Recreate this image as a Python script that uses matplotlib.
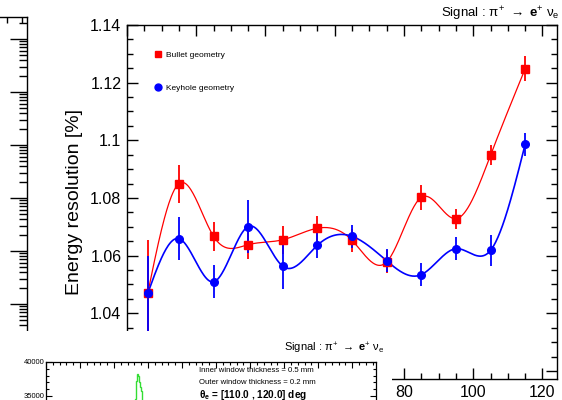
import numpy as np
import matplotlib
matplotlib.use('Agg')
import matplotlib.pyplot as plt
from matplotlib.ticker import MultipleLocator, LogLocator, NullFormatter, FuncFormatter
from matplotlib.lines import Line2D

plt.rcParams['font.family'] = ['Liberation Sans', 'DejaVu Sans']
plt.rcParams['mathtext.fontset'] = 'custom'
plt.rcParams['mathtext.rm'] = 'Liberation Sans'
plt.rcParams['mathtext.it'] = 'Liberation Sans'
plt.rcParams['mathtext.bf'] = 'Liberation Sans:bold'

# theta bins (deg) and energy resolution for the two geometries
theta = [6, 15, 25, 35, 45, 55, 65, 75, 85, 95, 105, 115]
bullet = [1.047, 1.085, 1.0667, 1.0638, 1.0655, 1.0695, 1.0653, 1.0578, 1.0802, 1.0728, 1.0948, 1.1248]
bullet_err = [0.0185, 0.0066, 0.005, 0.005, 0.0048, 0.0044, 0.004, 0.004, 0.0043, 0.0035, 0.0035, 0.0043]
keyhole = [1.0469, 1.0659, 1.0509, 1.0701, 1.0563, 1.0636, 1.0667, 1.0582, 1.0534, 1.0624, 1.0618, 1.0986]
keyhole_err = [0.013, 0.0074, 0.0057, 0.0092, 0.008, 0.0044, 0.004, 0.004, 0.004, 0.004, 0.0054, 0.0041]

# partly hidden histogram in the lower-left panel
hist_edges = [12.9, 13.05, 13.2, 13.35, 13.5, 13.65, 13.8, 13.95, 14.1, 14.25]
hist_counts = [30000, 34500, 37200, 38300, 38000, 37000, 36300, 35800, 30000]

W, H = 562, 400


def box(x0, y0, x1, y1):
    # pixel box (top-left origin) -> figure rect
    return [x0 / W, 1 - y1 / H, (x1 - x0) / W, (y1 - y0) / H]


def smooth(x, y, n=500):
    # natural cubic spline, like ROOT's "C" draw option
    x = np.asarray(x, float)
    y = np.asarray(y, float)
    h = np.diff(x)
    N = len(x)
    A = np.zeros((N, N))
    r = np.zeros(N)
    A[0, 0] = A[-1, -1] = 1
    for i in range(1, N - 1):
        A[i, i - 1] = h[i - 1]
        A[i, i] = 2 * (h[i - 1] + h[i])
        A[i, i + 1] = h[i]
        r[i] = 6 * ((y[i + 1] - y[i]) / h[i] - (y[i] - y[i - 1]) / h[i - 1])
    M = np.linalg.solve(A, r)
    xs = np.linspace(x[0], x[-1], n)
    idx = np.clip(np.searchsorted(x, xs) - 1, 0, N - 2)
    x0, x1 = x[idx], x[idx + 1]
    hh = x1 - x0
    a = (x1 - xs) / hh
    b = (xs - x0) / hh
    ys = a * y[idx] + b * y[idx + 1] + ((a ** 3 - a) * M[idx] + (b ** 3 - b) * M[idx + 1]) * hh ** 2 / 6
    return xs, ys


SIGNAL = r'Signal : $\pi^{+}$ $\rightarrow$ $\mathbf{e}^{+}$ $\nu_{e}$'

fig = plt.figure(figsize=(W / 100, H / 100), dpi=100)

# ---- main plot
ax = fig.add_axes(box(127, 25, 557, 379))
ax.set_xlim(0, 124.2)
ax.set_ylim(1.0172, 1.14)

for vals, errs, col, mk, lw in [(bullet, bullet_err, 'red', 's', 0.9),
                                (keyhole, keyhole_err, 'blue', 'o', 1.2)]:
    xs, ys = smooth(theta, vals)
    ax.plot(xs, ys, color=col, lw=lw, zorder=2)
    ax.errorbar(theta, vals, yerr=errs, fmt=mk, color=col, ms=5.5, elinewidth=1.3,
                capsize=0, zorder=3)

ax.xaxis.set_major_locator(MultipleLocator(20))
ax.xaxis.set_minor_locator(MultipleLocator(5))
ax.yaxis.set_major_locator(MultipleLocator(0.02))
ax.yaxis.set_minor_locator(MultipleLocator(0.005))
ax.yaxis.set_major_formatter(FuncFormatter(lambda v, p: f'{v:g}'))
ax.tick_params(which='both', direction='in', top=True, right=True, width=1.0)
ax.tick_params(which='major', length=8, labelsize=11.5, pad=4)
ax.tick_params(which='minor', length=4.3)
for s in ax.spines.values():
    s.set_linewidth(1.0)
ax.set_ylabel('Energy resolution [%]', fontsize=14, labelpad=5)

handles = [Line2D([], [], color='red', marker='s', ms=5, lw=0),
           Line2D([], [], color='blue', marker='o', ms=5, lw=0)]
ax.legend(handles, ['Bullet geometry', 'Keyhole geometry'], loc='upper left',
          bbox_to_anchor=(0.045, 0.948), frameon=False, fontsize=6,
          handlelength=1.0, handletextpad=0.5, labelspacing=3.0)

fig.text(560 / W, 1 - 14 / H, SIGNAL, ha='right', va='center', fontsize=9.5)

# ---- strip of another (log) plot at the left edge
axl = fig.add_axes(box(-20, 17, 27, 400))
axl.set_yscale('log')
axl.set_ylim(10 ** -0.811, 10 ** 6.415)
axl.set_xlim(-20, 27)
axl.yaxis.set_major_locator(LogLocator(base=10, numticks=20))
axl.yaxis.set_minor_locator(LogLocator(base=10, subs=np.arange(2, 10), numticks=20))
axl.yaxis.set_minor_formatter(NullFormatter())
axl.yaxis.tick_right()
axl.tick_params(axis='y', which='both', direction='in', labelright=False, width=1.0)
axl.tick_params(axis='y', which='major', length=12.5)
axl.tick_params(axis='y', which='minor', length=5.5)
axl.xaxis.tick_top()
axl.set_xticks([7, 22])
axl.tick_params(axis='x', direction='in', length=4, labeltop=False, width=1.0)
for k in ('left', 'bottom'):
    axl.spines[k].set_visible(False)
for k in ('right', 'top'):
    axl.spines[k].set_linewidth(1.0)

# ---- lower-left panel laid over the main plot
bg = fig.add_axes(box(0, 331, 392, 400))
bg.set_zorder(3)
bg.set_xticks([])
bg.set_yticks([])
for s in bg.spines.values():
    s.set_visible(False)

axi = fig.add_axes(box(46, 362, 376, 600))
axi.set_zorder(4)
axi.set_xlim(0, 48.5)
axi.set_ylim(5000, 40000)
axi.stairs(hist_counts, hist_edges, color='#33dd33', lw=1.0)
axi.xaxis.set_major_locator(MultipleLocator(5))
axi.xaxis.set_minor_locator(MultipleLocator(1))
axi.yaxis.set_major_locator(MultipleLocator(5000))
axi.yaxis.set_minor_locator(MultipleLocator(1000))
axi.tick_params(which='both', direction='in', top=True, right=True, width=0.8,
                labelbottom=False, labelsize=5.5, pad=1)
axi.tick_params(which='major', length=4.5)
axi.tick_params(which='minor', length=2.5)
for s in axi.spines.values():
    s.set_linewidth(0.9)
axi.text(0.465, 0.963, 'Inner window thickness = 0.5 mm', transform=axi.transAxes,
         fontsize=5.6, va='center')
axi.text(0.465, 0.915, 'Outer window thickness = 0.2 mm', transform=axi.transAxes,
         fontsize=5.6, va='center')
axi.text(0.465, 0.863, r'$\mathbf{\theta_{e}}$ = [110.0 , 120.0] deg', transform=axi.transAxes,
         fontsize=7.2, va='center', fontweight='bold')
fig.text(384 / W, 1 - 348 / H, SIGNAL, ha='right', va='center', fontsize=8, zorder=10)

fig.savefig('out.png', dpi=100)
